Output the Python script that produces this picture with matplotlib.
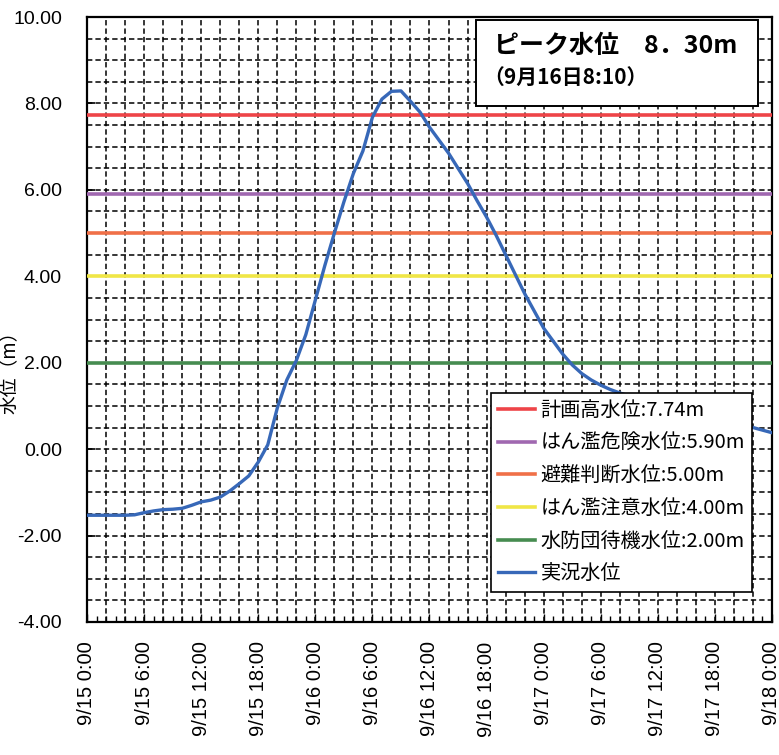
import matplotlib
matplotlib.use("Agg")
import matplotlib.pyplot as plt
from matplotlib.ticker import MultipleLocator, FixedLocator
from matplotlib.patches import Rectangle

plt.rcParams['font.family'] = ['Noto Sans CJK JP', 'DejaVu Sans']
plt.rcParams['axes.unicode_minus'] = False

# Observed water level (hours since 9/15 0:00)
hours = list(range(0, 73))
level = [-1.53, -1.53, -1.53, -1.53, -1.53, -1.52, -1.47, -1.43, -1.40, -1.39,
         -1.37, -1.30, -1.22, -1.18, -1.11, -0.97, -0.80, -0.62, -0.30, 0.10,
         0.95, 1.60, 2.05, 2.65, 3.45, 4.25, 5.00, 5.72, 6.38, 6.90,
         7.68, 8.10, 8.28, 8.29, 8.05, 7.80, 7.45, 7.15, 6.85, 6.50,
         6.15, 5.75, 5.37, 4.95, 4.50, 4.05, 3.60, 3.20, 2.80, 2.50,
         2.20, 1.95, 1.75, 1.60, 1.48, 1.38, 1.30, 1.23, 1.17, 1.11,
         1.05, 0.99, 0.94, 0.88, 0.83, 0.78, 0.73, 0.67, 0.62, 0.56,
         0.50, 0.44, 0.38]

thr_labels = ['計画高水位:7.74m', 'はん濫危険水位:5.90m', '避難判断水位:5.00m',
              'はん濫注意水位:4.00m', '水防団待機水位:2.00m']
thr_values = [7.74, 5.90, 5.00, 4.00, 2.00]
thr_colors = ['#EE4448', '#A068B0', '#F07048', '#F0E646', '#468C50']
obs_label = '実況水位'
obs_color = '#3768B8'

xtick_pos = [0, 6, 12, 18, 24, 30, 36, 42, 48, 54, 60, 66, 72]
xtick_labels = ['9/15 0:00', '9/15 6:00', '9/15 12:00', '9/15 18:00',
                '9/16 0:00', '9/16 6:00', '9/16 12:00', '9/16 18:00',
                '9/17 0:00', '9/17 6:00', '9/17 12:00', '9/17 18:00',
                '9/18 0:00']

peak_line1 = 'ピーク水位　8．30m'
peak_line2 = '（9月16日8:10）'

fig = plt.figure(figsize=(7.79, 7.55), dpi=100)
ax = fig.add_axes([87/779, 1-622/755, (772-87)/779, (622-17)/755])

for v, c, lab in zip(thr_values, thr_colors, thr_labels):
    ax.axhline(v, color=c, lw=2.6, label=lab, zorder=3)
ax.plot(hours, level, color=obs_color, lw=2.4, label=obs_label, zorder=4)

ax.set_xlim(0, 72)
ax.set_ylim(-4, 10)
ax.yaxis.set_major_locator(MultipleLocator(2))
ax.yaxis.set_minor_locator(MultipleLocator(0.5))
ax.xaxis.set_major_locator(FixedLocator(xtick_pos))
ax.xaxis.set_minor_locator(MultipleLocator(1))
ax.set_yticklabels([f'{v:.2f}' for v in ax.get_yticks()])
ax.set_xticks(xtick_pos)
ax.set_xticklabels(xtick_labels, rotation=90, va='top', ha='center',
                   fontsize=14.5, family=['Liberation Sans', 'DejaVu Sans'])
for t in ax.get_yticklabels():
    t.set_fontsize(14)
    t.set_family(['Liberation Sans Narrow', 'Liberation Sans', 'DejaVu Sans'])

# dashed grid
for y in [i * 0.5 for i in range(-8, 21)]:
    ax.axhline(y, color='black', lw=1.1, ls=(0, (3.5, 2)), zorder=1)
for x in range(2, 72, 2):
    ax.axvline(x, color='black', lw=1.1, ls=(0, (3.5, 2)), zorder=1)

ax.tick_params(axis='both', which='both', direction='in', color='black')
ax.tick_params(axis='y', which='major', length=6, width=1.2, pad=18)
ax.tick_params(axis='y', which='minor', length=0)
ax.tick_params(axis='x', which='major', length=6, width=1, pad=14)
ax.tick_params(axis='x', which='minor', length=4, width=1)
for s in ax.spines.values():
    s.set_linewidth(1.6)
    s.set_color('black')

ax.set_ylabel('水位（m）', fontsize=13.5)
ax.yaxis.set_label_coords(-0.098, 0.42)

leg = ax.legend(loc='upper right', bbox_to_anchor=(0.971, 0.3785),
                borderaxespad=0, fontsize=14.5, frameon=True, fancybox=False,
                handlelength=1.8, labelspacing=0.58, handletextpad=0.3,
                borderpad=0.35, framealpha=1)
leg.get_frame().set_edgecolor('black')
leg.get_frame().set_linewidth(1.2)
leg.set_zorder(10)

box = Rectangle((0.568, 0.853), 0.412, 0.142, transform=ax.transAxes,
                facecolor='white', edgecolor='black', lw=1.4, zorder=9)
ax.add_patch(box)
ax.text(0.594, 0.952, peak_line1, transform=ax.transAxes, fontsize=18,
        fontweight='bold', va='center', ha='left', zorder=10)
ax.text(0.578, 0.9, peak_line2, transform=ax.transAxes, fontsize=15,
        fontweight='bold', va='center', ha='left', zorder=10)

fig.savefig('out.png', dpi=100)
